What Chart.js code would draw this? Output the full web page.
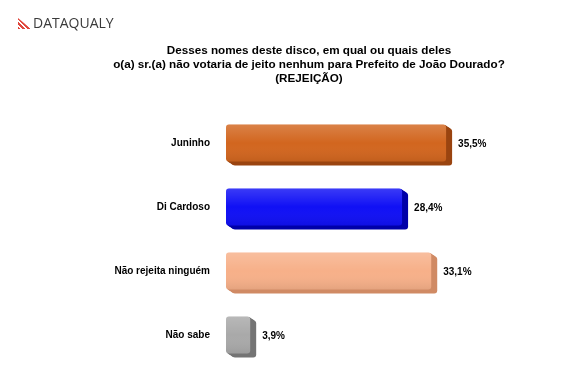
<!DOCTYPE html>
<html>
<head>
<meta charset="utf-8">
<script src="https://cdn.jsdelivr.net/npm/chart.js@4"></script>
<style>
  html, body { margin: 0; padding: 0; background: #fff; overflow: hidden; }
  #wrap { position: relative; width: 570px; height: 365px; overflow: hidden; }
  #chart { position: absolute; left: 0; top: 0; }
  .logo { position: absolute; left: 18px; top: 14px; font-family: "Open Sans", Arial, sans-serif; font-size: 14px; color: #3a3a3a; line-height: 18px; }
  .logo .mark { display: inline-block; width: 13px; height: 11px; margin-right: 2px; vertical-align: -1px;
    background: repeating-linear-gradient(45deg, #e0463c 0 2px, transparent 2px 3.5px);
    clip-path: polygon(0 0, 100% 100%, 0 100%); }
  .title { position: absolute; left: 89px; width: 440px; top: 43px; text-align: center;
    font-family: "Liberation Sans", Arial, sans-serif; font-weight: bold; font-size: 11.7px; line-height: 14px; color: #000; }
</style>
</head>
<body>
<div id="wrap">
  <canvas id="chart" width="570" height="381"></canvas>
  <div class="logo"><span class="mark"></span>DATAQUALY</div>
  <div class="title">Desses nomes deste disco, em qual ou quais deles<br>o(a) sr.(a) não votaria de jeito nenhum para Prefeito de João Dourado?<br>(REJEIÇÃO)</div>
</div>
<script>
const categories = ['Juninho', 'Di Cardoso', 'Não rejeita ninguém', 'Não sabe'];
const values = [35.5, 28.4, 33.1, 3.9];
const valueLabels = ['35,5%', '28,4%', '33,1%', '3,9%'];
const frontColors = ['#d2661f', '#1010f5', '#f7b089', '#a9a9a9'];
const sideColors = ['#9a4410', '#0000a8', '#d08a64', '#747474'];

const depthX = 6;
const depthY = 4;

// extrusion behind each bar, gives the 3D look
const depthPlugin = {
    id: 'depth',
    beforeDatasetsDraw(chart) {
        const ctx = chart.ctx;
        const meta = chart.getDatasetMeta(0);
        meta.data.forEach((bar, i) => {
            const top = bar.y - bar.height / 2;
            const left = bar.base;
            const w = bar.x - bar.base;
            const h = bar.height;
            ctx.save();
            ctx.fillStyle = sideColors[i];
            for (let k = 1; k <= depthX; k++) {
                const dy = depthY * k / depthX;
                ctx.beginPath();
                ctx.roundRect(left + k, top + dy, w, h, 3);
                ctx.fill();
            }
            ctx.restore();
        });
    },
    afterDatasetsDraw(chart) {
        const ctx = chart.ctx;
        const meta = chart.getDatasetMeta(0);
        meta.data.forEach((bar, i) => {
            const top = bar.y - bar.height / 2;
            const w = bar.x - bar.base;
            ctx.save();
            // soft highlight on the top of the front face
            const g = ctx.createLinearGradient(0, top, 0, top + bar.height);
            g.addColorStop(0, 'rgba(255,255,255,0.18)');
            g.addColorStop(0.5, 'rgba(255,255,255,0)');
            g.addColorStop(1, 'rgba(0,0,0,0.08)');
            ctx.fillStyle = g;
            ctx.beginPath();
            ctx.roundRect(bar.base, top, w, bar.height, 3);
            ctx.fill();
            // value label
            ctx.fillStyle = '#000';
            ctx.font = 'bold 10px "Liberation Sans", Arial, sans-serif';
            ctx.textBaseline = 'middle';
            ctx.textAlign = 'left';
            ctx.fillText(valueLabels[i], bar.x + depthX + 6, bar.y + 1);
            ctx.restore();
        });
    }
};

new Chart(document.getElementById('chart').getContext('2d'), {
    type: 'bar',
    data: {
        labels: categories,
        datasets: [{
            data: values,
            backgroundColor: frontColors,
            borderRadius: 3,
            borderSkipped: false,
            barPercentage: 0.58,
            categoryPercentage: 1
        }]
    },
    options: {
        indexAxis: 'y',
        responsive: false,
        animation: false,
        layout: { padding: { top: 111, bottom: 5, left: 0, right: 96 } },
        scales: {
            x: { min: 0, max: 40, display: false },
            y: {
                afterFit: s => { s.width = 226; },
                grid: { display: false },
                border: { display: false },
                ticks: {
                    padding: 8,
                    color: '#000',
                    font: { family: '"Liberation Sans", Arial, sans-serif', weight: 'bold', size: 10 }
                }
            }
        },
        plugins: {
            legend: { display: false },
            tooltip: { enabled: false }
        }
    },
    plugins: [depthPlugin]
});
</script>
</body>
</html>
